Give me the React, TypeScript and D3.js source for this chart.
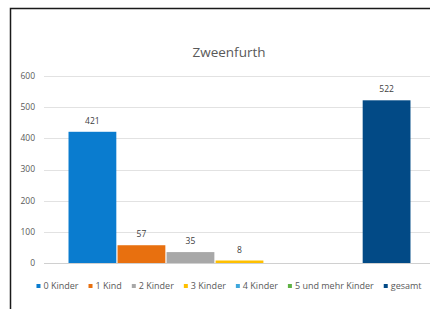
import React, { useEffect, useRef } from "react";
import * as d3 from "d3";

const title = "Zweenfurth";
const seriesNames = ["0 Kinder", "1 Kind", "2 Kinder", "3 Kinder", "4 Kinder", "5 und mehr Kinder", "gesamt"];
const seriesValues: (number | null)[] = [421, 57, 35, 8, null, null, 522];
const seriesColors = ["#0a7ccf", "#e8700f", "#a8a8a8", "#ffc000", "#3ea7dc", "#5fb244", "#024a86"];
const yTicks = [0, 100, 200, 300, 400, 500, 600];

const W = 430;
const H = 309;
const FONT = "'Open Sans', 'Noto Sans', sans-serif";

export default function App() {
  const ref = useRef<SVGSVGElement | null>(null);

  useEffect(() => {
    const svg = d3.select(ref.current);
    svg.selectAll("*").remove();

    svg.append("rect").attr("x", 0).attr("y", 0).attr("width", W).attr("height", H).attr("fill", "#ffffff");
    // chart border: only left and top edges fall inside the view
    svg
      .append("path")
      .attr("d", `M10.5,${H} V8.5 H${W}`)
      .attr("fill", "none")
      .attr("stroke", "#1a1a1a")
      .attr("stroke-width", 1.5);

    const plotLeft = 44;
    const plotRight = 435;
    const y = d3.scaleLinear().domain([0, 600]).range([263, 76]);
    const x = d3
      .scaleBand<string>()
      .domain(seriesNames)
      .range([plotLeft, plotRight])
      .paddingInner(0.025)
      .paddingOuter(0.5);

    svg
      .append("text")
      .attr("x", 229)
      .attr("y", 57)
      .attr("text-anchor", "middle")
      .attr("font-family", FONT)
      .attr("font-size", 13.5)
      .attr("fill", "#595959")
      .text(title);

    svg
      .append("g")
      .selectAll("line")
      .data(yTicks)
      .join("line")
      .attr("x1", plotLeft)
      .attr("x2", W)
      .attr("y1", (d) => Math.round(y(d)) + 0.5)
      .attr("y2", (d) => Math.round(y(d)) + 0.5)
      .attr("stroke", (d) => (d === 0 ? "#d0d0d0" : "#e2e2e2"))
      .attr("stroke-width", 1);

    svg
      .append("g")
      .selectAll("text")
      .data(yTicks)
      .join("text")
      .attr("x", 35)
      .attr("y", (d) => y(d))
      .attr("dy", "0.35em")
      .attr("text-anchor", "end")
      .attr("font-family", FONT)
      .attr("font-size", 8.5)
      .attr("fill", "#595959")
      .text((d) => String(d));

    const data = seriesNames.map((n, i) => ({ name: n, value: seriesValues[i], color: seriesColors[i] }));
    const present = data.filter((d) => d.value !== null) as { name: string; value: number; color: string }[];

    svg
      .append("g")
      .selectAll("rect")
      .data(present)
      .join("rect")
      .attr("x", (d) => x(d.name)!)
      .attr("width", x.bandwidth())
      .attr("y", (d) => y(d.value))
      .attr("height", (d) => Math.max(1, y(0) - y(d.value)))
      .attr("fill", (d) => d.color);

    svg
      .append("g")
      .selectAll("text")
      .data(present)
      .join("text")
      .attr("x", (d) => x(d.name)! + x.bandwidth() / 2)
      .attr("y", (d) => y(d.value) - 8)
      .attr("text-anchor", "middle")
      .attr("font-family", FONT)
      .attr("font-size", 8.5)
      .attr("fill", "#404040")
      .text((d) => String(d.value));

    const lg = svg.append("g");
    const items = lg.selectAll("g").data(data).join("g");
    items
      .append("rect")
      .attr("width", 4)
      .attr("height", 4)
      .attr("y", -5)
      .attr("fill", (d) => d.color);
    const texts = items
      .append("text")
      .attr("x", 7)
      .attr("y", 0)
      .attr("font-family", FONT)
      .attr("font-size", 9)
      .attr("fill", "#595959")
      .text((d) => d.name);
    const widths: number[] = [];
    texts.each(function () {
      widths.push((this as SVGTextElement).getComputedTextLength());
    });
    const gap = 10;
    const total = widths.reduce((a, w) => a + 7 + w, 0) + gap * (widths.length - 1);
    let cx = 229 - total / 2;
    const offsets: number[] = [];
    widths.forEach((w) => {
      offsets.push(cx);
      cx += 7 + w + gap;
    });
    items.attr("transform", (_d, i) => `translate(${offsets[i]},289)`);
  }, []);

  return (
    <svg
      ref={ref}
      width={W}
      height={H}
      style={{ position: "absolute", left: 0, top: 0, display: "block" }}
    />
  );
}
